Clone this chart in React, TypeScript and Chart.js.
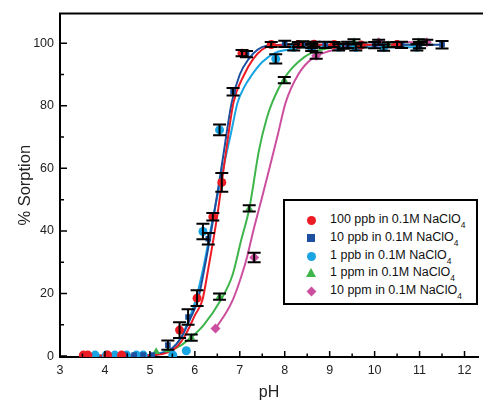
import React, { useEffect, useRef } from 'react';
import { Chart, registerables } from 'chart.js';

Chart.register(...registerables);

// ---- Data ----
const xTicks = [3, 4, 5, 6, 7, 8, 9, 10, 11, 12];
const yTicks = [0, 20, 40, 60, 80, 100];

const seriesNames = [
  '100 ppb in 0.1M NaClO',
  '10 ppb in 0.1M NaClO',
  '1 ppb in 0.1M NaClO',
  '1 ppm in 0.1M NaClO',
  '10 ppm in 0.1M NaClO',
];

// 100 ppb (red circles)
const redPH = [3.52, 3.62, 4.06, 4.37, 5.66, 6.05, 6.4, 6.6, 7.05, 7.7, 8.3, 8.65, 9.1, 9.7, 10.5];
const redVal = [0.3, 0.3, 0.3, 0.3, 8.3, 18.5, 44.5, 55.5, 96.8, 99.6, 99.6, 99.7, 99.6, 99.4, 99.6];
const redErr = [0, 0, 0, 0, 2.5, 2.5, 1.2, 3, 1, 0.8, 0.8, 0.8, 0.8, 0.8, 0.8];

// 10 ppb (navy squares)
const navyPH = [4.45, 4.65, 4.85, 5.05, 5.4, 5.85, 6.3, 6.85, 7.15, 8.0, 8.4, 8.9, 9.4, 10.0, 10.6, 11.0, 11.5];
const navyVal = [0.3, 0.3, 0.3, 0.3, 3.5, 12.5, 37.5, 84.5, 96.5, 99.8, 99.6, 99.5, 99.5, 99.4, 99.5, 99.4, 99.5];
const navyErr = [0, 0, 0, 0, 1.5, 2.5, 1.8, 1.2, 1, 1, 1, 1, 1, 1, 1, 1, 1.2];

// 1 ppb (light blue circles)
const lbPH = [3.78, 4.03, 4.22, 4.48, 4.7, 4.85, 5.51, 5.81, 6.18, 6.55, 7.8, 8.2, 8.6, 9.2, 9.58, 10.2, 10.94];
const lbVal = [0.3, 0.3, 0.3, 0.3, 0.3, 0.3, 0.3, 1.7, 39.8, 72.3, 95, 98.7, 98.5, 98.7, 98.7, 98.6, 98.7];
const lbErr = [0, 0, 0, 0, 0, 0, 0, 0, 2.5, 1.7, 1.5, 1, 1, 1, 1, 1, 1];

// 1 ppm (green triangles)
const gPH = [5.14, 5.4, 5.92, 6.55, 7.21, 7.99, 8.6, 9.54, 10.3, 10.98];
const gVal = [1.4, 1.9, 5.9, 19, 47.2, 88.2, 99.2, 100.5, 99.5, 100.5];
const gErr = [0, 0, 1, 1, 1, 1, 0.8, 0.8, 0.8, 0.8];

// 10 ppm (pink diamonds)
const pPH = [6.46, 7.32, 8.7, 9.3, 10.09, 11.16];
const pVal = [8.8, 31.5, 96, 99, 100.3, 100.3];
const pErr = [0, 1.5, 1, 0.8, 0.8, 0.8];

// Fitted curves
const redFitPH = [3.55, 4.5, 5.1, 5.4, 5.6, 5.8, 6.0, 6.17, 6.3, 6.5, 6.7, 6.86, 7.1, 7.3, 7.5, 7.7, 8.5, 9.5, 10.5];
const redFitVal = [0.2, 0.2, 0.3, 1.2, 3, 7, 13, 18, 28, 45, 66, 81, 90, 95, 98, 99.2, 99.5, 99.5, 99.5];

const navyFitPH = [4.4, 5.0, 5.3, 5.5, 5.7, 5.9, 6.07, 6.2, 6.4, 6.6, 6.82, 7.0, 7.2, 7.4, 7.6, 8.0, 9.5, 11.5];
const navyFitVal = [0.2, 0.3, 1, 2.5, 6, 12, 18, 27, 43, 61, 81, 90, 95, 98, 99.2, 99.5, 99.5, 99.5];

const lbFitPH = [3.75, 4.5, 5.0, 5.3, 5.5, 5.7, 5.85, 6.02, 6.2, 6.4, 6.6, 6.8, 6.95, 7.1, 7.25, 7.5, 7.8, 8.1, 8.3, 9.5, 11.05];
const lbFitVal = [0.2, 0.2, 0.3, 1.2, 2.5, 6, 11, 18, 29, 44, 58, 71, 81, 86, 89.5, 94, 97, 98, 98.7, 98.7, 98.7];

const gFitPH = [5.05, 5.4, 5.7, 5.92, 6.2, 6.58, 6.84, 7.03, 7.21, 7.43, 7.6, 7.72, 8.0, 8.3, 8.6, 9.0, 9.5, 10.0, 11.0];
const gFitVal = [0.2, 1.5, 3.5, 6, 10, 18, 26, 37, 47, 66, 76, 81, 89, 94, 97, 98.5, 99.3, 99.5, 99.5];

const pFitPH = [6.46, 6.7, 6.84, 7.0, 7.15, 7.3, 7.5, 7.66, 7.85, 8.02, 8.3, 8.6, 9.0, 9.5, 10.0, 10.2, 11.16];
const pFitVal = [8.8, 14, 17.8, 24, 31, 40, 51, 60, 71, 81, 90, 95, 97.5, 98.8, 99.5, 100.3, 100.3];

const colors = ['#ec1c24', '#1d4f9f', '#19a4e3', '#3db54a', '#cc4f9f'];
const shapes = ['circle', 'rect', 'circle', 'triangle', 'rectRot'];

const pointSets = [
  { ph: redPH, val: redVal, err: redErr },
  { ph: navyPH, val: navyVal, err: navyErr },
  { ph: lbPH, val: lbVal, err: lbErr },
  { ph: gPH, val: gVal, err: gErr },
  { ph: pPH, val: pVal, err: pErr },
];
const fitSets = [
  { ph: redFitPH, val: redFitVal },
  { ph: navyFitPH, val: navyFitVal },
  { ph: lbFitPH, val: lbFitVal },
  { ph: gFitPH, val: gFitVal },
  { ph: pFitPH, val: pFitVal },
];

const FONT = "'Liberation Sans', Arial, sans-serif";

const errorBarPlugin = {
  id: 'errorBars',
  afterDatasetsDraw(chart: any) {
    const ctx = chart.ctx;
    const xs = chart.scales.x;
    const ys = chart.scales.y;
    ctx.save();
    ctx.strokeStyle = '#000';
    ctx.lineWidth = 2;
    pointSets.forEach((s) => {
      s.ph.forEach((p, j) => {
        const e = s.err[j];
        if (!e) return;
        const x = xs.getPixelForValue(p);
        const yt = ys.getPixelForValue(s.val[j] + e);
        const yb = ys.getPixelForValue(s.val[j] - e);
        ctx.beginPath();
        ctx.moveTo(x, yt);
        ctx.lineTo(x, yb);
        ctx.moveTo(x - 6.5, yt);
        ctx.lineTo(x + 6.5, yt);
        ctx.moveTo(x - 6.5, yb);
        ctx.lineTo(x + 6.5, yb);
        ctx.stroke();
      });
    });
    ctx.restore();
  },
};

const frameTicksPlugin = {
  id: 'frameTicks',
  afterDraw(chart: any) {
    const ctx = chart.ctx;
    const xs = chart.scales.x;
    const ys = chart.scales.y;
    const ca = chart.chartArea;
    ctx.save();
    ctx.strokeStyle = '#000';
    ctx.lineWidth = 2;
    ctx.beginPath();
    ctx.moveTo(ca.left - 1, ca.top);
    ctx.lineTo(chart.width, ca.top);
    ctx.stroke();
    ctx.lineWidth = 1.5;
    ctx.beginPath();
    for (let v = 3; v <= 12.3; v += 0.5) {
      const major = Math.abs(v - Math.round(v)) < 1e-6;
      const x = xs.getPixelForValue(v);
      ctx.moveTo(x, ca.bottom);
      ctx.lineTo(x, ca.bottom - (major ? 6 : 3.5));
    }
    for (let v = 0; v <= 100; v += 10) {
      const major = v % 20 === 0;
      const y = ys.getPixelForValue(v);
      ctx.moveTo(ca.left, y);
      ctx.lineTo(ca.left + (major ? 7 : 4), y);
    }
    ctx.stroke();
    ctx.restore();
  },
};

function LegendMarker({ idx }: { idx: number }) {
  const c = colors[idx];
  const base: React.CSSProperties = { display: 'inline-block', position: 'absolute' };
  if (idx === 0 || idx === 2) {
    return <span style={{ ...base, left: 22, top: 4, width: 9, height: 9, borderRadius: '50%', background: c }} />;
  }
  if (idx === 1) {
    return <span style={{ ...base, left: 22, top: 4, width: 8, height: 8, background: c }} />;
  }
  if (idx === 3) {
    return (
      <span
        style={{
          ...base,
          left: 21,
          top: 3,
          width: 0,
          height: 0,
          borderLeft: '5px solid transparent',
          borderRight: '5px solid transparent',
          borderBottom: '9px solid ' + c,
        }}
      />
    );
  }
  return <span style={{ ...base, left: 23, top: 5, width: 7, height: 7, background: c, transform: 'rotate(45deg)' }} />;
}

export default function App() {
  const ref = useRef<HTMLCanvasElement | null>(null);

  useEffect(() => {
    if (!ref.current) return;
    const datasets: any[] = [];
    fitSets.forEach((f, i) => {
      datasets.push({
        label: seriesNames[i] + ' fit',
        data: f.ph.map((p, j) => ({ x: p, y: f.val[j] })),
        showLine: true,
        borderColor: colors[i],
        borderWidth: 2,
        pointRadius: 0,
        tension: 0.4,
        cubicInterpolationMode: 'monotone',
        fill: false,
        order: 2,
      });
    });
    pointSets.forEach((s, i) => {
      datasets.push({
        label: seriesNames[i],
        data: s.ph.map((p, j) => ({ x: p, y: s.val[j] })),
        showLine: false,
        pointStyle: shapes[i],
        pointRadius: i === 1 ? 4 : i === 4 ? 5 : 4.5,
        backgroundColor: colors[i],
        borderColor: colors[i],
        borderWidth: 0,
        order: 1,
      });
    });

    const chart = new Chart(ref.current, {
      type: 'scatter',
      data: { datasets },
      plugins: [errorBarPlugin, frameTicksPlugin],
      options: {
        animation: false,
        responsive: false,
        maintainAspectRatio: false,
        layout: { padding: { top: 11, right: 3, left: 0, bottom: 0 } },
        plugins: { legend: { display: false }, tooltip: { enabled: false } },
        scales: {
          x: {
            type: 'linear',
            min: 3,
            max: 12.3,
            afterBuildTicks: (scale: any) => {
              scale.ticks = xTicks.map((v) => ({ value: v }));
            },
            afterFit: (scale: any) => {
              scale.height = 46;
            },
            grid: { display: false, drawTicks: false },
            border: { display: true, color: '#000', width: 2 },
            ticks: {
              padding: 6,
              color: '#222',
              font: { family: FONT, size: 12.5 },
              maxRotation: 0,
              autoSkip: false,
            },
            title: {
              display: true,
              text: 'pH',
              color: '#222',
              font: { family: FONT, size: 16 },
              padding: { top: 0, bottom: 1 },
            },
          },
          y: {
            type: 'linear',
            min: -0.3,
            max: 109.5,
            afterBuildTicks: (scale: any) => {
              scale.ticks = yTicks.map((v) => ({ value: v }));
            },
            afterFit: (scale: any) => {
              scale.width = 60;
            },
            grid: { display: false, drawTicks: false },
            border: { display: true, color: '#000', width: 2 },
            ticks: {
              padding: 6,
              color: '#222',
              font: { family: FONT, size: 12.5 },
              autoSkip: false,
            },
            title: {
              display: true,
              text: '% Sorption',
              color: '#222',
              font: { family: FONT, size: 16.5 },
              padding: { top: 16, bottom: 0 },
            },
          },
        },
      } as any,
    });
    return () => chart.destroy();
  }, []);

  return (
    <div style={{ position: 'fixed', left: 0, top: 0, width: 483, height: 403, background: '#fff', overflow: 'hidden' }}>
      <canvas ref={ref} width={483} height={403} style={{ position: 'absolute', left: 0, top: 0, width: 483, height: 403 }} />
      <div
        style={{
          position: 'absolute',
          left: 283,
          top: 199,
          width: 195,
          height: 106,
          boxSizing: 'border-box',
          border: '2px solid #000',
          background: '#fff',
          fontFamily: FONT,
          fontSize: 12.5,
          color: '#111',
        }}
      >
        {seriesNames.map((n, i) => (
          <div key={i} style={{ position: 'absolute', left: 0, top: 11 + i * 17.8, height: 16, width: 190, whiteSpace: 'nowrap' }}>
            <LegendMarker idx={i} />
            <span style={{ position: 'absolute', left: 45, top: 0, lineHeight: '14px' }}>
              {n}
              <span style={{ fontSize: 8.5, position: 'relative', top: 5 }}>4</span>
            </span>
          </div>
        ))}
      </div>
    </div>
  );
}
